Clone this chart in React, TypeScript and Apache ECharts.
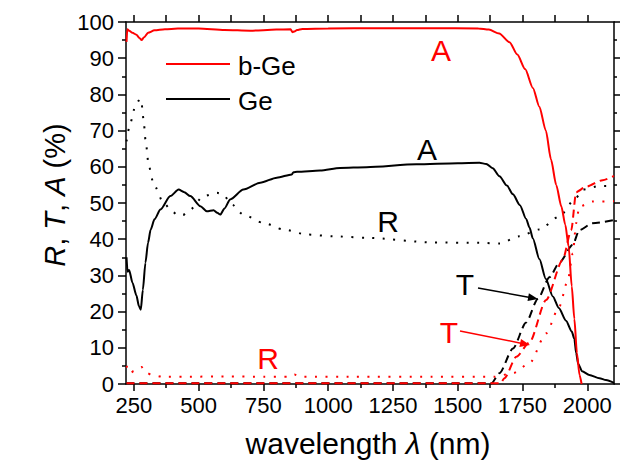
import React, { useEffect, useRef } from "react";
import * as echarts from "echarts";

const FONT = "'Liberation Sans', Arial, Helvetica, sans-serif";

// Axis ticks / labels
const xTickLabels = [250, 500, 750, 1000, 1250, 1500, 1750, 2000];
const xMinorTicks = [375, 625, 875, 1125, 1375, 1625, 1875];
const xTopTicks = [250, 375, 500, 625, 750, 875, 1000, 1125, 1250, 1375, 1500, 1625, 1750, 1875, 2000];

// b-Ge absorptance (red solid)
const wlBGeA = [222, 225, 232, 245, 260, 272, 280, 290, 305, 330, 370, 420, 500, 600, 700, 800, 855, 862, 870, 880, 900, 1000, 1200, 1400, 1580, 1620, 1660, 1700, 1730, 1760, 1790, 1815, 1840, 1860, 1880, 1900, 1915, 1928, 1940, 1950, 1960, 1970, 1978];
const bGeA = [94.5, 98.0, 97.6, 97.0, 96.5, 95.6, 95.0, 95.8, 97.0, 97.7, 98.0, 98.2, 98.2, 97.8, 97.6, 97.9, 98.0, 97.2, 97.4, 97.8, 98.1, 98.2, 98.3, 98.3, 98.2, 97.9, 96.8, 94.4, 91.0, 87.0, 81.8, 76.6, 70.0, 62.0, 55.0, 49.0, 44.0, 38.0, 27.0, 18.0, 8.5, 2.5, 0];

// b-Ge reflectance (red dotted)
const wlBGeR = [222, 236, 250, 265, 280, 295, 320, 360, 450, 600, 750, 855, 870, 885, 900, 1100, 1400, 1640, 1713, 1777, 1841, 1892, 1925, 1944, 1957, 1969, 2020, 2103];
const bGeR = [5.0, 2.9, 3.6, 4.2, 4.7, 3.2, 2.5, 2.0, 2.0, 2.1, 2.0, 2.0, 2.6, 2.3, 2.0, 2.0, 2.0, 2.0, 3.0, 5.7, 14.0, 21.4, 28.7, 36.1, 44.4, 49.0, 50.4, 50.5];

// b-Ge transmittance (red dashed)
const wlBGeT = [222, 1665, 1680, 1726, 1777, 1841, 1905, 1938, 1957, 1995, 2059, 2103];
const bGeT = [0.2, 0.2, 1.6, 7.5, 11.5, 23.2, 34.3, 42.5, 53.0, 54.5, 56.3, 57.5];

// Ge absorptance (black solid)
const wlGeA = [222, 226, 232, 245, 260, 270, 277, 285, 295, 305, 315, 330, 353, 391, 423, 445, 468, 507, 532, 558, 572, 584, 600, 622, 673, 738, 802, 860, 866, 880, 969, 1046, 1148, 1341, 1500, 1584, 1610, 1635, 1661, 1690, 1713, 1740, 1764, 1777, 1790, 1815, 1840, 1867, 1890, 1918, 1940, 1950, 1957, 1965, 1980, 2008, 2047, 2072, 2103];
const geA = [35, 31, 31.5, 28, 24.5, 21.5, 20.5, 26, 33.5, 39, 42.6, 45.5, 48.2, 51.9, 53.7, 53.0, 51.9, 49.1, 47.7, 48.0, 47.3, 46.8, 48.5, 51.0, 53.7, 55.6, 57.0, 57.9, 58.5, 58.6, 59.0, 59.7, 59.9, 60.7, 61.0, 61.1, 60.8, 59.6, 57.4, 54.8, 52.4, 49.4, 45.6, 43.2, 40.2, 34.5, 29.0, 24.2, 21.0, 17.5, 14.5, 12.5, 8.5, 5.5, 3.5, 2.5, 1.6, 1.1, 0.3];

// Ge reflectance (black dotted)
const wlGeR = [222, 237, 256, 270, 278, 288, 295, 308, 327, 365, 400, 423, 440, 468, 519, 571, 596, 622, 673, 750, 827, 917, 1020, 1148, 1405, 1584, 1661, 1738, 1815, 1892, 1957, 1982, 2046, 2103];
const geR = [67, 72.2, 76.8, 78.3, 78.7, 73, 67.6, 60.2, 55.1, 50, 47.5, 46.5, 46.7, 48.2, 51.9, 52.8, 52.4, 50, 46.8, 44.5, 42.7, 41.3, 40.8, 40.4, 39.1, 39, 38.8, 40.8, 42.7, 46.3, 51.5, 53.7, 54.7, 54.7];

// Ge transmittance (black dashed)
const wlGeT = [222, 1630, 1661, 1713, 1764, 1809, 1854, 1892, 1944, 1969, 2020, 2103];
const geT = [0.2, 0.2, 3.0, 9.8, 17.0, 23.5, 29.5, 33.5, 38.5, 42.5, 44.4, 45.3];

const pairs = (xs: number[], ys: number[]) => xs.map((x, i) => [x, ys[i]]);

const RED = "#ff0000";
const BLACK = "#000000";
const DOT = [2, 8.5];
const DASH = [8, 5];

function line(name: string, xs: number[], ys: number[], color: string, type: any) {
  return {
    type: "line",
    name,
    data: pairs(xs, ys),
    showSymbol: false,
    symbol: "none",
    smooth: 0.25,
    smoothMonotone: "x",
    lineStyle: { color, width: 2, type },
    silent: true,
  };
}

export default function App() {
  const ref = useRef<HTMLDivElement>(null);
  useEffect(() => {
    if (!ref.current) return;
    const chart = echarts.init(ref.current, null, { renderer: "svg" });
    const axisLineStyle = { color: BLACK, width: 1.5 };
    const option: any = {
      animation: false,
      backgroundColor: "#ffffff",
      textStyle: { fontFamily: FONT },
      grid: { left: 126, right: 6, top: 22, bottom: 80, containLabel: false },
      xAxis: [
        {
          type: "value",
          position: "bottom",
          min: 220,
          max: 2103,
          axisLine: { show: true, lineStyle: axisLineStyle },
          axisTick: { show: true, length: 7, inside: false, customValues: xTickLabels, lineStyle: axisLineStyle },
          axisLabel: {
            show: true,
            customValues: xTickLabels,
            formatter: (v: number) => String(v),
            fontSize: 22,
            color: BLACK,
            fontFamily: FONT,
            margin: 10,
          },
          splitLine: { show: false },
        },
        {
          type: "value",
          position: "bottom",
          min: 220,
          max: 2103,
          axisLine: { show: false },
          axisTick: { show: true, length: 4, inside: false, customValues: xMinorTicks, lineStyle: axisLineStyle },
          axisLabel: { show: false },
          splitLine: { show: false },
        },
        {
          type: "value",
          position: "top",
          min: 220,
          max: 2103,
          axisLine: { show: true, lineStyle: axisLineStyle },
          axisTick: { show: true, length: 7, inside: false, customValues: xTopTicks, lineStyle: axisLineStyle },
          axisLabel: { show: false },
          splitLine: { show: false },
        },
      ],
      yAxis: [
        {
          type: "value",
          position: "left",
          min: 0,
          max: 100,
          interval: 10,
          axisLine: { show: true, lineStyle: axisLineStyle },
          axisTick: { show: true, length: 8, inside: false, lineStyle: axisLineStyle },
          minorTick: { show: true, splitNumber: 2, length: 4, lineStyle: axisLineStyle },
          axisLabel: { show: true, fontSize: 22, color: BLACK, fontFamily: FONT, margin: 12 },
          splitLine: { show: false },
          minorSplitLine: { show: false },
        },
        {
          type: "value",
          position: "right",
          min: 0,
          max: 100,
          interval: 10,
          axisLine: { show: true, lineStyle: axisLineStyle },
          axisTick: { show: true, length: 6, inside: false, lineStyle: axisLineStyle },
          minorTick: { show: true, splitNumber: 2, length: 3, lineStyle: axisLineStyle },
          axisLabel: { show: false },
          splitLine: { show: false },
          minorSplitLine: { show: false },
        },
      ],
      series: [
        line("Ge R", wlGeR, geR, BLACK, DOT),
        line("Ge T", wlGeT, geT, BLACK, DASH),
        line("Ge", wlGeA, geA, BLACK, "solid"),
        line("b-Ge R", wlBGeR, bGeR, RED, DOT),
        line("b-Ge T", wlBGeT, bGeT, RED, DASH),
        line("b-Ge", wlBGeA, bGeA, RED, "solid"),
      ],
      graphic: [
        // legend
        { type: "line", shape: { x1: 166, y1: 64, x2: 230, y2: 64 }, style: { stroke: RED, lineWidth: 2 } },
        { type: "text", x: 238, y: 66, style: { text: "b-Ge", font: `26px ${FONT}`, fill: BLACK, textVerticalAlign: "middle", textAlign: "left" } },
        { type: "line", shape: { x1: 166, y1: 99, x2: 230, y2: 99 }, style: { stroke: BLACK, lineWidth: 2 } },
        { type: "text", x: 238, y: 101, style: { text: "Ge", font: `26px ${FONT}`, fill: BLACK, textVerticalAlign: "middle", textAlign: "left" } },
        // annotations
        { type: "text", x: 441, y: 50, style: { text: "A", font: `30px ${FONT}`, fill: RED, textAlign: "center", textVerticalAlign: "middle" } },
        { type: "text", x: 427, y: 149, style: { text: "A", font: `30px ${FONT}`, fill: BLACK, textAlign: "center", textVerticalAlign: "middle" } },
        { type: "text", x: 388, y: 221, style: { text: "R", font: `30px ${FONT}`, fill: BLACK, textAlign: "center", textVerticalAlign: "middle" } },
        { type: "text", x: 268, y: 358, style: { text: "R", font: `30px ${FONT}`, fill: RED, textAlign: "center", textVerticalAlign: "middle" } },
        { type: "text", x: 465, y: 284, style: { text: "T", font: `30px ${FONT}`, fill: BLACK, textAlign: "center", textVerticalAlign: "middle" } },
        { type: "text", x: 449, y: 332, style: { text: "T", font: `30px ${FONT}`, fill: RED, textAlign: "center", textVerticalAlign: "middle" } },
        // arrows
        { type: "line", shape: { x1: 478, y1: 288, x2: 530, y2: 297.5 }, style: { stroke: BLACK, lineWidth: 1.5 } },
        { type: "polygon", shape: { points: [[538, 299], [527.5, 301.1], [528.9, 293.3]] }, style: { fill: BLACK } },
        { type: "line", shape: { x1: 460, y1: 331, x2: 522, y2: 343.4 }, style: { stroke: RED, lineWidth: 1.5 } },
        { type: "polygon", shape: { points: [[530, 345], [519.4, 346.9], [521.0, 339.1]] }, style: { fill: RED } },
        // axis titles
        {
          type: "text",
          x: 368,
          y: 443,
          style: {
            text: "wavelength {i|λ} (nm)",
            font: `30px ${FONT}`,
            fill: BLACK,
            textAlign: "center",
            textVerticalAlign: "middle",
            rich: { i: { fontStyle: "italic", fontSize: 30, fontFamily: FONT, fill: BLACK } },
          },
        },
        {
          type: "text",
          x: 55,
          y: 195,
          rotation: Math.PI / 2,
          style: {
            text: "{i|R}, {i|T}, {i|A} (%)",
            font: `29px ${FONT}`,
            fill: BLACK,
            textAlign: "center",
            textVerticalAlign: "middle",
            rich: { i: { fontStyle: "italic", fontSize: 29, fontFamily: FONT, fill: BLACK } },
          },
        },
      ],
    };
    chart.setOption(option);
    return () => chart.dispose();
  }, []);
  return (
    <div
      ref={ref}
      style={{ position: "absolute", left: 0, top: 0, width: 620, height: 464, background: "#fff" }}
    />
  );
}
